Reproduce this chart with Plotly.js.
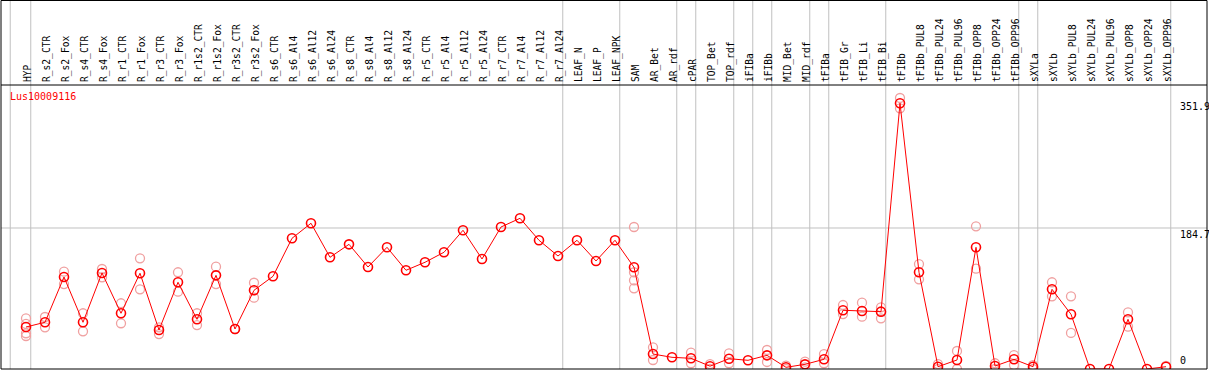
<!DOCTYPE html>
<html>
<head>
<meta charset="utf-8">
<script src="https://cdn.plot.ly/plotly-3.0.1.min.js"></script>
<style>html,body{margin:0;padding:0;background:#fff;}#chart{width:1209px;height:370px;}</style>
</head>
<body>
<div id="chart"></div>
<script>
const geneName = 'Lus10009116';

const categories = ['HYP','R_s2_CTR','R_s2_Fox','R_s4_CTR','R_s4_Fox','R_r1_CTR','R_r1_Fox','R_r3_CTR','R_r3_Fox',
  'R_r1s2_CTR','R_r1s2_Fox','R_r3s2_CTR','R_r3s2_Fox','R_s6_CTR','R_s6_Al4','R_s6_Al12','R_s6_Al24',
  'R_s8_CTR','R_s8_Al4','R_s8_Al12','R_s8_Al24','R_r5_CTR','R_r5_Al4','R_r5_Al12','R_r5_Al24',
  'R_r7_CTR','R_r7_Al4','R_r7_Al12','R_r7_Al24','LEAF_N','LEAF_P','LEAF_NPK','SAM','AR_Bet','AR_rdf',
  'cPAR','TOP_Bet','TOP_rdf','iFIBa','iFIBb','MID_Bet','MID_rdf','tFIBa','tFIB_Gr','tFIB_Li','tFIB_Bi',
  'tFIBb','tFIBb_PUL8','tFIBb_PUL24','tFIBb_PUL96','tFIBb_OPP8','tFIBb_OPP24','tFIBb_OPP96',
  'sXYLa','sXYLb','sXYLb_PUL8','sXYLb_PUL24','sXYLb_PUL96','sXYLb_OPP8','sXYLb_OPP24','sXYLb_OPP96'];

const meanValues = [55.0,61.2,120.5,61.2,125.8,73.0,125.4,51.1,113.6,
  65.1,122.7,52.4,103.1,121.4,171.2,190.9,146.3,
  163.3,133.6,159.4,129.3,139.8,152.9,181.7,144.1,
  186.0,197.4,168.6,148.0,168.6,141.5,168.6,133.2,19.6,15.3,
  14.0,3.7,13.5,11.4,17.9,2.2,6.1,12.7,76.9,76.0,75.1,
  348.0,126.7,3.0,11.8,159.4,3.9,12.7,
  3.0,104.4,71.7,0,0,65.1,0,3.0];

const replicateValues = [
  [66.4,59.0,46.8,43.2],[68.1,54.6],[127.5,111.3],[73.0,49.4],[131.0,120.1],[86.1,59.9],[145.0,104.4],[54.6,45.8],[126.7,101.3],
  [73.0,57.6],[134.0,111.3],[52.4],[113.0,93.4],[],[],[],[],
  [],[],[],[],[],[],[],[],
  [],[],[],[],[],[],[],[186.0,126.7,116.2,105.7],[28.4,11.8],[],
  [21.4,7.5],[6.5,0],[20.5,7.5],[],[24.9,9.2],[4.5,0],[9.6,2.0],[19.6,7.5],[83.8,72.0],[86.9,68.5],[80.8,66.4],
  [355.0,341.5],[137.5,117.5],[6.5,0],[23.6,0],[186.9,131.4],[7.5,0],[18.3,5.2],
  [5.2,0],[113.6,95.2],[95.2,47.2],[],[],[74.3,55.4],[],[4.0]];

const groupEnds = ['HYP','R_r7_Al24','LEAF_NPK','AR_rdf','cPAR','TOP_rdf','iFIBa','iFIBb','MID_rdf','tFIBa',
  'tFIB_Bi','tFIBb_OPP96','sXYLa','sXYLb_OPP96'];

const yTickVals = [0, 184.7, 351.9];
const yTickText = ['0', '184.7', '351.9'];

// ---- build ----
const idx = categories.map((c, i) => i);
const repX = [], repY = [];
replicateValues.forEach((arr, i) => arr.forEach(v => { repX.push(i); repY.push(v); }));

const mono = 'DejaVu Sans Mono, Liberation Mono, monospace';
const labelTop = 1 + 84.5 / 284;

const shapes = [];
shapes.push({type:'line', xref:'x', yref:'paper', x0:-0.83, x1:-0.83, y0:0, y1:labelTop, line:{color:'#c0c0c0', width:1}, layer:'below'});
groupEnds.forEach(name => {
  const p = categories.indexOf(name) + 0.25;
  shapes.push({type:'line', xref:'x', yref:'paper', x0:p, x1:p, y0:0, y1:labelTop, line:{color:'#c0c0c0', width:1}, layer:'below'});
});
shapes.push({type:'line', xref:'paper', yref:'y', x0:0, x1:1, y0:yTickVals[1], y1:yTickVals[1], line:{color:'#c0c0c0', width:1}, layer:'below'});
shapes.push({type:'rect', xref:'paper', yref:'paper', x0:0, x1:1, y0:0, y1:labelTop, line:{color:'#000', width:1}, layer:'above'});
shapes.push({type:'line', xref:'paper', yref:'paper', x0:0, x1:1, y0:1, y1:1, line:{color:'#000', width:1}, layer:'above'});

const annotations = [
  {xref:'paper', yref:'paper', x:0.0068, y:1, xanchor:'left', yanchor:'top', yshift:-5, text:geneName, showarrow:false,
   font:{family:mono, size:10, color:'#ff0000'}, borderpad:0}
];
yTickVals.forEach((v, i) => {
  annotations.push({xref:'paper', yref:'y', x:0.9765, y:v, xanchor:'left', yanchor: v === 0 ? 'bottom' : 'top',
    text:yTickText[i], showarrow:false, font:{family:mono, size:10, color:'#000'}, borderpad:0, yshift: v === 0 ? 2 : 0});
});

const data = [
  {x:repX, y:repY, type:'scatter', mode:'markers', hoverinfo:'skip',
   marker:{symbol:'circle-open', size:9, color:'#f0a0a0', line:{width:1.3, color:'#f0a0a0'}}},
  {x:idx, y:meanValues, type:'scatter', mode:'lines+markers',
   line:{color:'#ff0000', width:1},
   marker:{symbol:'circle-open', size:9, color:'#ff0000', line:{width:1.6, color:'#ff0000'}}}
];

const layout = {
  width:1209, height:370,
  margin:{l:1, r:2, t:85, b:1, pad:0},
  paper_bgcolor:'#fff', plot_bgcolor:'#fff',
  showlegend:false,
  xaxis:{range:[(1-26)/19, (1207-26)/19], side:'top', tickmode:'array', tickvals:idx, ticktext:categories,
    tickangle:-90, tickfont:{family:mono, size:9.6, color:'#000'}, showgrid:false, zeroline:false,
    showline:false, ticks:'', ticklabelshift:2, ticklabelstandoff:2},
  yaxis:{range:[0, 372], showticklabels:false, showgrid:false, zeroline:false, showline:false, ticks:''},
  shapes:shapes,
  annotations:annotations
};

Plotly.newPlot('chart', data, layout, {staticPlot:true, displayModeBar:false});
</script>
</body>
</html>
